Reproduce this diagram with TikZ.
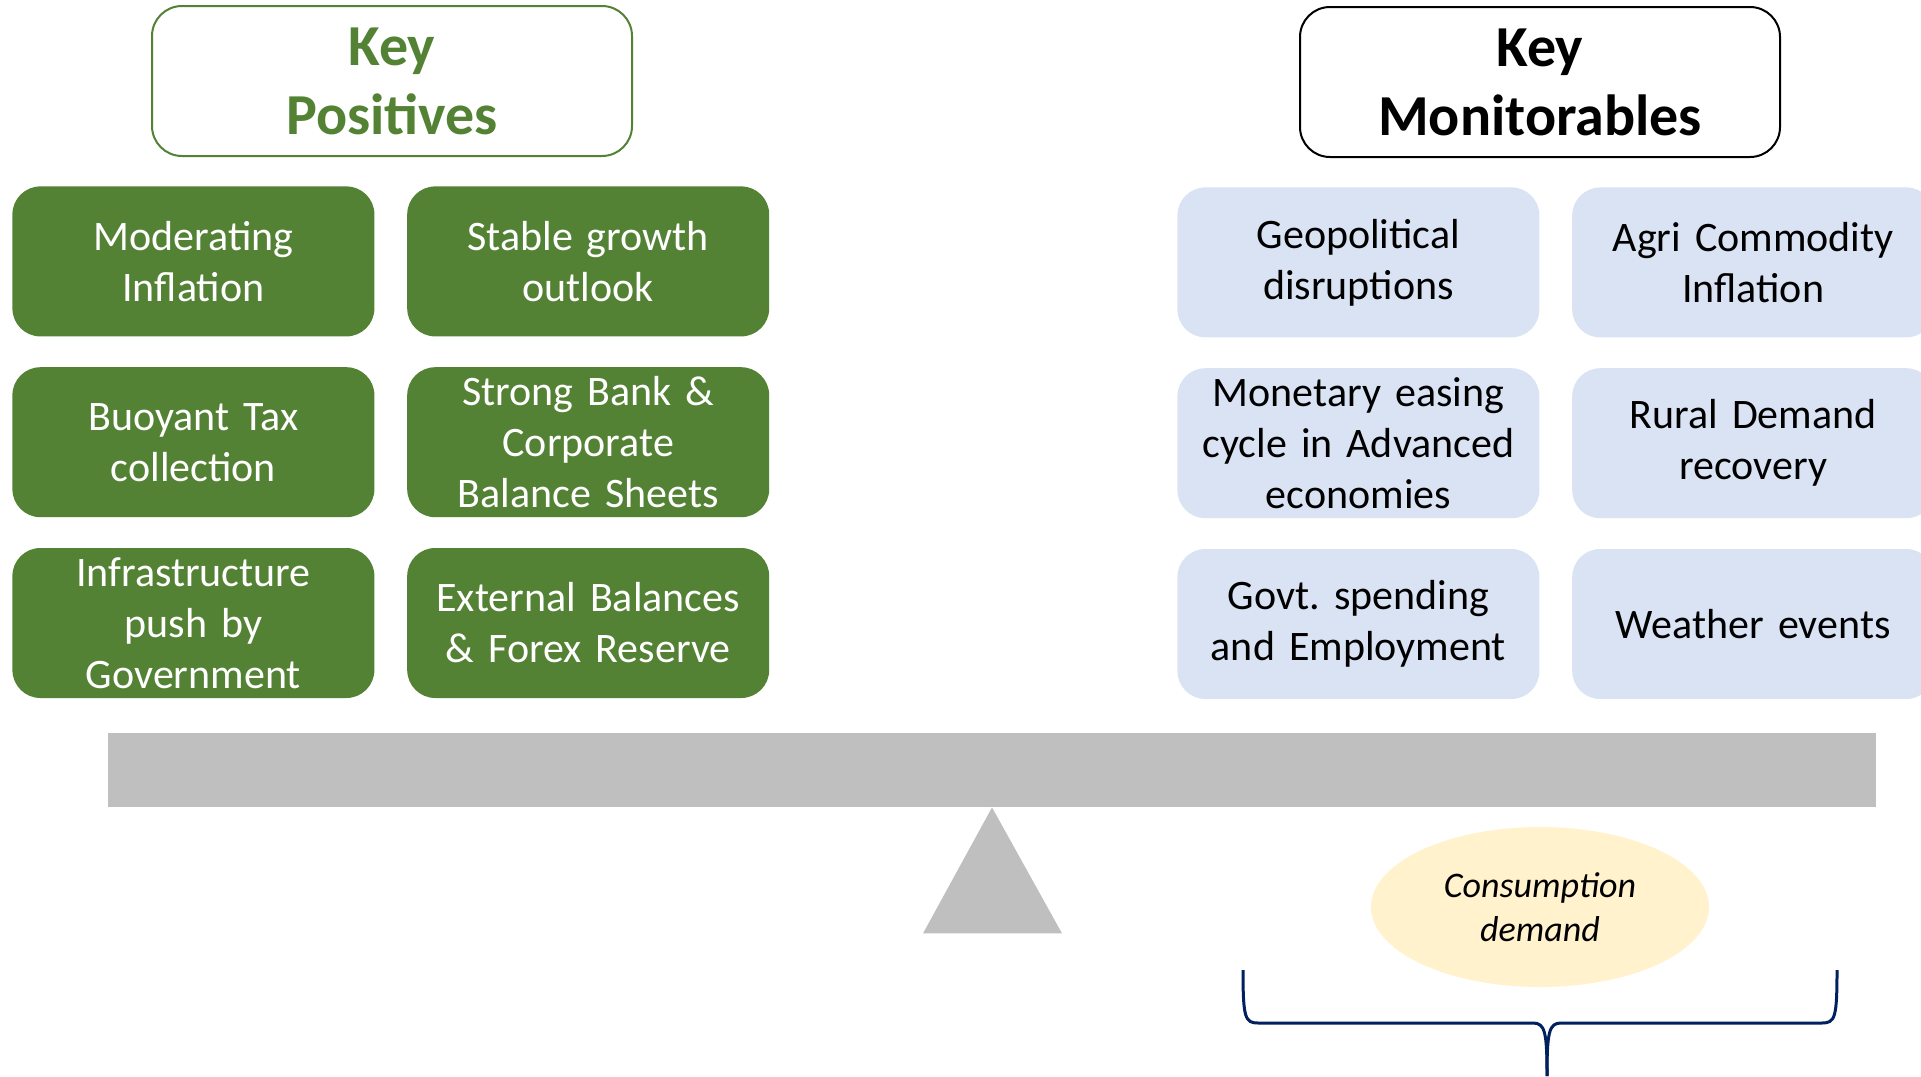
\documentclass[tikz,border=0pt]{standalone}
\usepackage{fontspec}
\setmainfont{Carlito}
\frenchspacing
\usetikzlibrary{positioning,shapes.geometric}
\definecolor{posgreen}{HTML}{548235}
\definecolor{monblue}{HTML}{DAE3F3}
\definecolor{beamgray}{HTML}{BFBFBF}
\definecolor{consyellow}{HTML}{FFF2CC}
\definecolor{bracenavy}{HTML}{002060}
\begin{document}
\begin{tikzpicture}[
    x=0.5pt, y=-0.5pt,
    node distance=15pt and 16pt,
    posbox/.style={ fill=posgreen,
      text=white,
      rounded corners=14pt,
      align=center,
      inner sep=0pt,
      text width=172pt,
      minimum height=75pt,
      minimum width=181pt,
      font=\fontsize{21}{25.5}\selectfont},
    monbox/.style={posbox, fill=monblue, text=black},
    headbox/.style={ draw, line width=1pt,
      rounded corners=15pt,
      align=center,
      minimum height=75pt,
      minimum width=240pt,
      font=\bfseries\fontsize{29}{34.5}\selectfont}]
    \useasboundingbox (0,0) rectangle (1921,1076);

    \node[headbox, draw=posgreen, text=posgreen] (KP) at (392,81) {Key\\Positives};
    \node[headbox, draw=black] (KM) at (1540,82) {Key\\Monitorables};

    \node[posbox, anchor=north west] (MI) at (12,186) {Moderating\\Inflation};
    \node[posbox, right=of MI] (SG) {Stable growth\\outlook};
    \node[posbox, below=of MI] (BT) {Buoyant Tax\\collection};
    \node[posbox, right=of BT] (SB) {Strong Bank \&\\Corporate\\Balance Sheets};
    \node[posbox, below=of BT] (IP) {Infrastructure\\push by\\Government};
    \node[posbox, right=of IP] (EB) {External Balances\\\& Forex Reserve};

    \node[monbox, anchor=north west] (GD) at (1177,187) {Geopolitical\\disruptions};
    \node[monbox, right=of GD] (AC) {Agri Commodity\\Inflation};
    \node[monbox, below=of GD] (ME) {Monetary easing\\cycle in Advanced\\economies};
    \node[monbox, right=of ME] (RD) {Rural Demand\\recovery};
    \node[monbox, below=of ME] (GE) {Govt. spending\\and Employment};
    \node[monbox, right=of GE] (WE) {Weather events};

    \node[fill=beamgray, inner sep=0pt, minimum width=884pt, minimum height=37pt] (beam) at (992,770) {};
    \fill[beamgray] (beam.south) -- ++(-69,126) -- ++(139,0) -- cycle;

    \node[ellipse, fill=consyellow, inner sep=0pt, minimum width=169pt, minimum height=80pt,
      align=center, font=\itshape\fontsize{18}{22}\selectfont] (CD) at (1540,907) {Consumption\\demand};

    \coordinate (tip) at (1547,1076);
    \draw[bracenavy, line width=1.5pt] (1243,970) .. controls (1243,1018) and (1245,1023) .. (1258,1023)
      -- (1533,1023) .. controls (1545,1023) and (1547,1032) .. (tip);
    \draw[bracenavy, line width=1.5pt] (1837,970) .. controls (1837,1018) and (1835,1023) .. (1822,1023)
      -- (1561,1023) .. controls (1549,1023) and (1547,1032) .. (tip);
\end{tikzpicture}
\end{document}
